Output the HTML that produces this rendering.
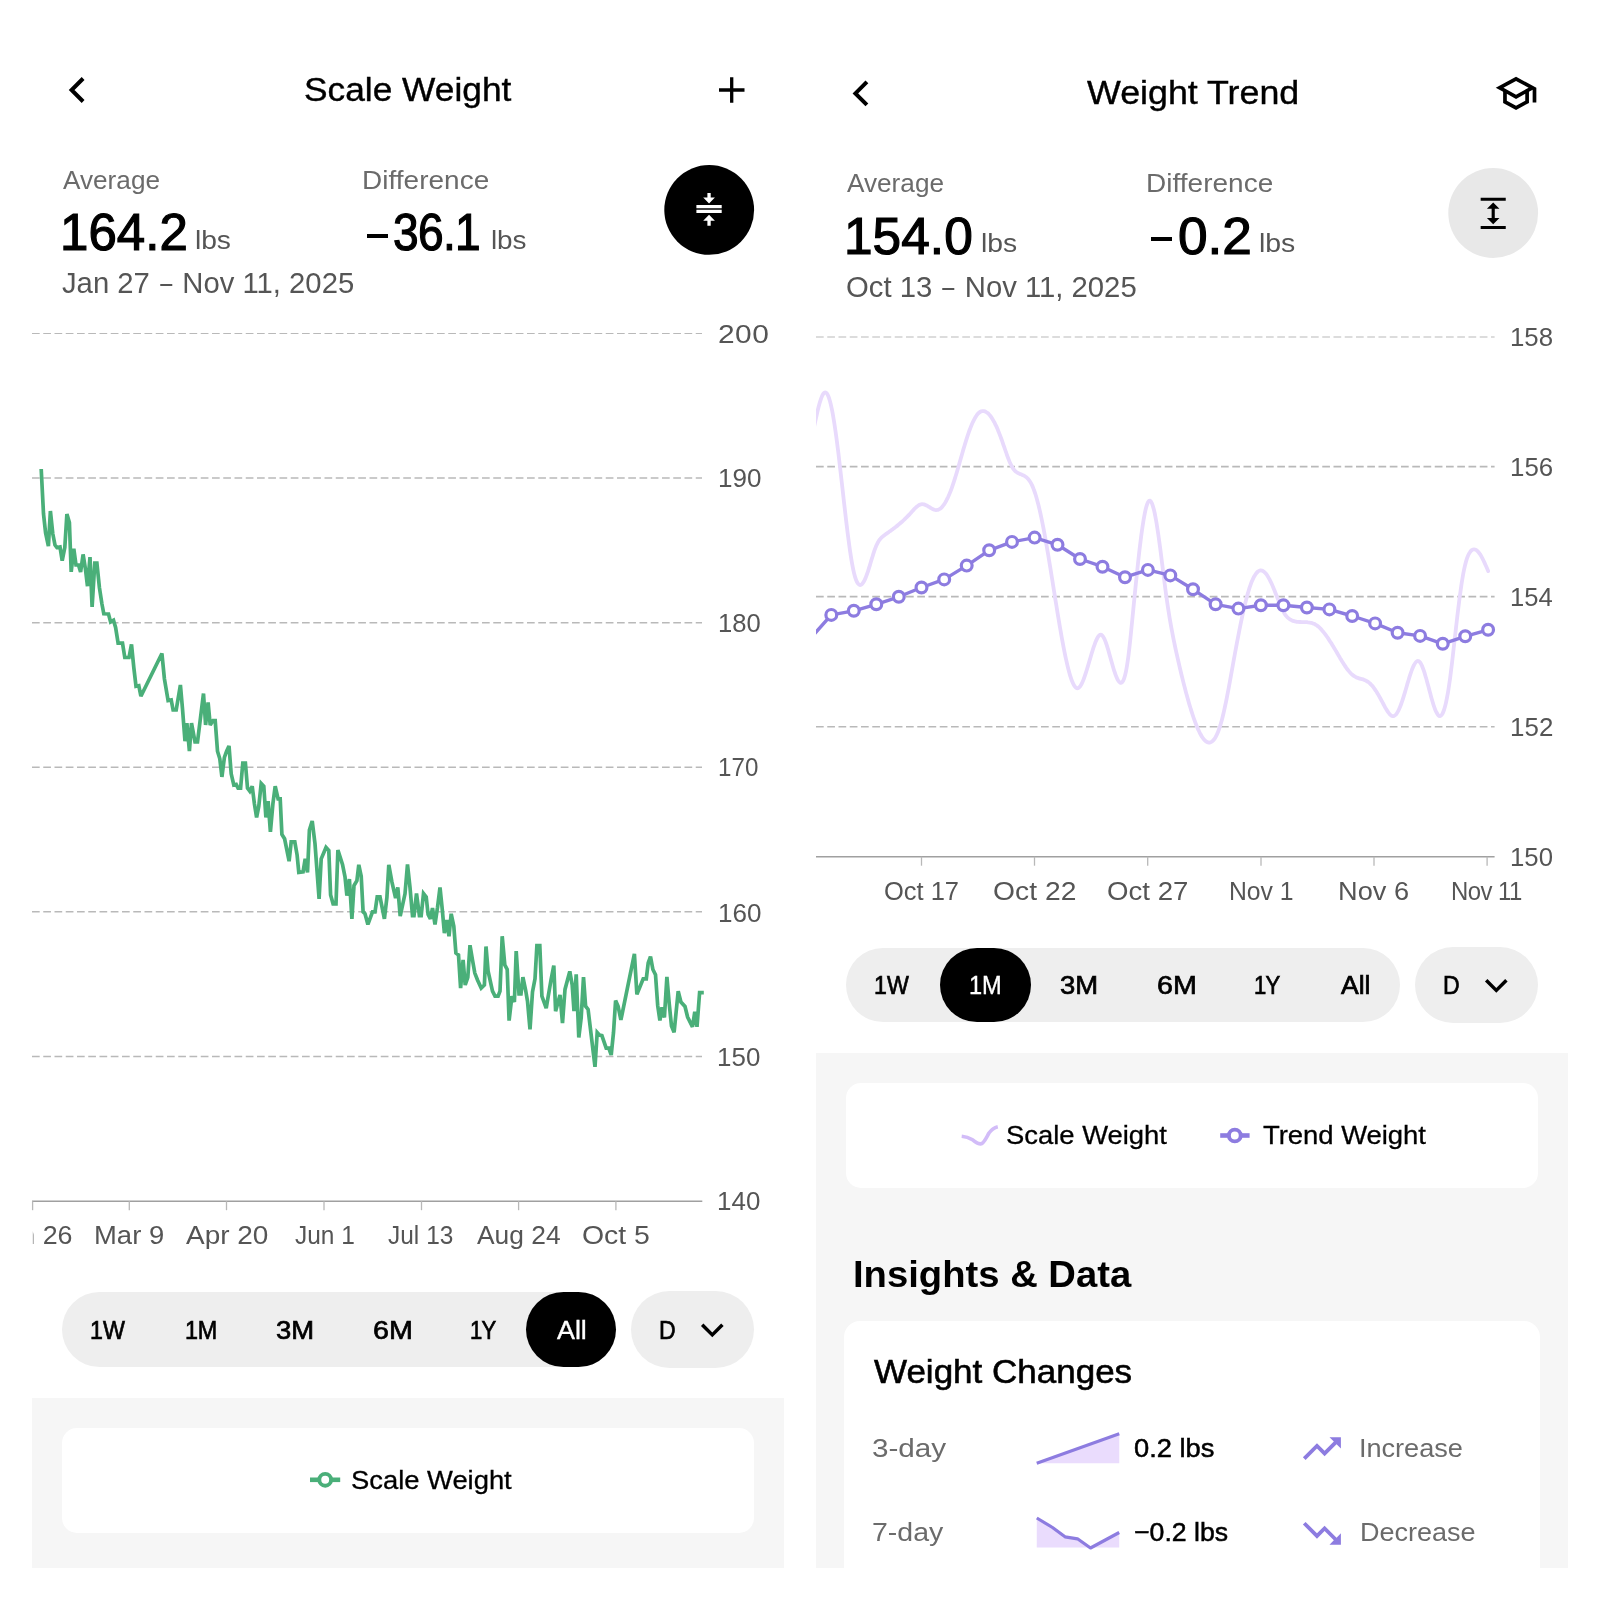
<!DOCTYPE html>
<html><head><meta charset="utf-8"><title>Weight</title>
<style>html,body{margin:0;padding:0;background:#fff}body{width:1600px;height:1600px;position:relative;overflow:hidden;font-family:'Liberation Sans',sans-serif}.t{position:absolute;white-space:pre;transform-origin:0 0;}.d{display:inline-block;transform:scaleX(.74)}.b{position:absolute}</style></head>
<body>
<div class="b" style="left:32px;top:1397.8px;width:752px;height:170.2px;background:#f6f6f6"></div>
<div class="b" style="left:816px;top:1053.3px;width:752px;height:514.7px;background:#f6f6f6"></div>
<div class="b" style="left:61.8px;top:1427.8px;width:692.3px;height:104.8px;background:#fff;border-radius:15px"></div>
<div class="b" style="left:845.8px;top:1083.3px;width:692.3px;height:104.8px;background:#fff;border-radius:15px"></div>
<div class="b" style="left:844px;top:1320.8px;width:696px;height:247.2px;background:#fff;border-radius:16px 16px 0 0"></div>
<div class="b" style="left:366.8px;top:233.7px;width:21.4px;height:3.9px;background:#000"></div>
<div class="b" style="left:1151px;top:237.1px;width:21.2px;height:3.9px;background:#000"></div>
<div class="b" style="left:62px;top:1292px;width:554px;height:74.8px;background:#eee;border-radius:38px"></div>
<div class="b" style="left:526px;top:1292.3px;width:89.8px;height:74.4px;background:#000;border-radius:38px"></div>
<div class="b" style="left:630.8px;top:1291px;width:123.2px;height:76.5px;background:#eee;border-radius:39px"></div>
<div class="b" style="left:846px;top:947.5px;width:554px;height:74.8px;background:#eee;border-radius:38px"></div>
<div class="b" style="left:940.2px;top:947.7px;width:90.6px;height:74.4px;background:#000;border-radius:38px"></div>
<div class="b" style="left:1414.8px;top:946.5px;width:123.2px;height:76.5px;background:#eee;border-radius:39px"></div>
<svg width="1600" height="1600" viewBox="0 0 1600 1600" style="position:absolute;left:0;top:0">
<line x1="32" y1="333.45" x2="702" y2="333.45" stroke="#b9b9b9" stroke-width="1.1" stroke-dasharray="7.7 3.55"/>
<line x1="32" y1="478" x2="702" y2="478" stroke="#b9b9b9" stroke-width="1.55" stroke-dasharray="7.7 3.55"/>
<line x1="32" y1="622.7" x2="702" y2="622.7" stroke="#b9b9b9" stroke-width="1.55" stroke-dasharray="7.7 3.55"/>
<line x1="32" y1="767.25" x2="702" y2="767.25" stroke="#b9b9b9" stroke-width="1.55" stroke-dasharray="7.7 3.55"/>
<line x1="32" y1="911.8" x2="702" y2="911.8" stroke="#b9b9b9" stroke-width="1.55" stroke-dasharray="7.7 3.55"/>
<line x1="32" y1="1056.5" x2="702" y2="1056.5" stroke="#b9b9b9" stroke-width="1.55" stroke-dasharray="7.7 3.55"/>
<line x1="32" y1="1201.2" x2="702.3" y2="1201.2" stroke="#a0a0a0" stroke-width="1.4"/>
<line x1="32.6" y1="1201.2" x2="32.6" y2="1210.2" stroke="#b8b8b8" stroke-width="1.3"/>
<line x1="129.3" y1="1201.2" x2="129.3" y2="1210.2" stroke="#b8b8b8" stroke-width="1.3"/>
<line x1="226.5" y1="1201.2" x2="226.5" y2="1210.2" stroke="#b8b8b8" stroke-width="1.3"/>
<line x1="324" y1="1201.2" x2="324" y2="1210.2" stroke="#b8b8b8" stroke-width="1.3"/>
<line x1="421.5" y1="1201.2" x2="421.5" y2="1210.2" stroke="#b8b8b8" stroke-width="1.3"/>
<line x1="518.6" y1="1201.2" x2="518.6" y2="1210.2" stroke="#b8b8b8" stroke-width="1.3"/>
<line x1="615.9" y1="1201.2" x2="615.9" y2="1210.2" stroke="#b8b8b8" stroke-width="1.3"/>
<polyline points="41.2,469.0 43.5,513.8 45.6,533.0 48.4,546.2 50.4,511.0 52.8,533.8 55.0,545.0 56.9,547.5 60.0,546.9 62.2,560.6 64.8,547.5 66.9,514.0 69.4,522.5 71.2,571.9 73.8,548.8 76.0,565.0 78.5,565.0 80.6,571.9 83.1,554.4 85.4,568.8 87.5,586.2 90.0,557.2 92.1,606.9 94.8,563.1 96.9,563.1 99.4,587.5 101.9,603.8 103.8,613.8 108.5,614.0 110.6,621.9 113.5,620.2 115.6,627.5 118.1,643.1 122.5,643.1 124.8,657.5 129.0,657.5 131.5,644.4 133.8,667.5 136.0,686.2 138.8,685.6 140.9,696.2 161.9,653.5 164.4,678.8 168.1,700.6 171.2,700.0 173.1,710.0 176.2,710.0 180.4,685.0 182.5,708.8 185.0,741.2 186.9,723.1 189.4,751.2 191.5,723.1 195.0,741.9 197.5,741.9 203.5,693.5 205.6,725.0 208.1,702.5 210.2,725.0 213.1,720.6 215.2,720.6 217.5,751.2 219.8,758.8 221.9,776.9 224.4,757.5 226.6,751.2 229.0,746.0 231.2,773.8 233.8,785.0 236.2,784.4 238.1,788.1 240.6,788.1 242.8,763.1 245.4,763.1 247.5,788.1 249.8,791.2 252.2,786.2 254.4,803.8 256.6,817.5 258.8,806.2 261.2,783.5 263.8,786.2 265.9,817.5 268.1,801.2 270.4,831.9 272.9,803.8 275.2,786.2 278.1,798.8 280.2,798.8 281.9,834.4 284.6,838.8 289.1,861.2 291.2,841.9 294.8,841.9 297.1,855.0 298.8,872.5 303.1,871.9 305.2,858.8 307.5,872.5 309.4,830.0 312.2,821.0 315.0,843.8 319.1,898.8 321.2,858.8 326.0,847.5 328.8,850.6 330.6,895.0 333.1,903.8 336.0,903.8 337.9,850.0 342.5,864.4 345.0,876.9 346.9,895.6 349.4,879.0 351.9,918.8 354.0,885.6 356.9,880.6 358.8,864.8 361.2,876.2 363.1,911.9 365.0,913.8 367.9,924.4 372.5,911.9 375.0,911.9 377.2,896.9 380.0,896.9 384.4,918.8 386.9,897.5 388.8,864.8 391.9,881.9 395.6,898.1 397.8,887.5 400.2,916.2 405.0,893.8 407.5,864.4 410.0,887.5 412.5,915.6 414.0,915.6 416.5,893.5 419.4,915.6 421.2,915.6 423.5,893.5 426.2,896.9 428.1,914.4 430.4,918.8 432.5,908.1 435.0,924.4 437.5,907.5 440.0,887.5 442.2,908.8 444.4,933.1 446.9,920.0 449.0,936.2 451.2,913.8 453.8,926.2 455.9,953.1 458.5,955.0 460.6,988.1 463.1,960.0 465.2,985.0 467.8,977.5 470.0,945.2 472.5,960.0 474.8,973.1 477.5,980.0 481.2,988.1 484.4,985.0 486.0,946.5 488.1,971.2 492.5,991.2 495.0,996.2 498.1,996.2 500.0,991.2 502.2,936.2 504.8,965.0 507.2,969.4 509.1,1020.6 511.9,996.2 514.4,1001.9 516.2,951.0 519.0,993.8 521.0,993.8 522.9,977.2 525.6,990.0 527.5,1001.2 530.0,1029.4 532.5,991.9 535.0,978.8 536.9,945.6 539.8,945.6 541.9,996.2 546.2,1008.1 551.0,980.0 553.8,965.6 555.6,1011.2 560.0,995.0 562.5,1023.1 565.0,989.4 567.5,980.0 569.8,971.4 572.2,985.0 574.0,1011.2 576.2,974.4 578.8,1037.5 581.2,1017.5 583.5,977.2 585.6,1006.2 588.1,1009.4 595.0,1066.9 597.2,1032.5 599.4,1035.0 601.9,1035.6 606.2,1048.1 608.8,1048.1 611.2,1055.0 613.5,1032.5 615.6,1000.6 618.1,1006.2 620.9,1020.0 634.4,953.8 636.9,994.4 643.2,978.8 646.3,978.8 648.2,963.0 650.5,956.7 652.9,969.5 655.5,974.7 657.7,1005.5 659.9,1020.5 662.0,1007.3 664.4,1017.5 666.9,976.9 669.2,1003.5 671.5,1026.0 674.1,1032.4 678.2,991.1 680.9,1002.0 685.0,1006.5 687.6,1017.0 692.5,1026.8 694.8,1011.8 697.0,1026.8 699.6,992.6 703.8,992.6" fill="none" stroke="#4aaf79" stroke-width="3.7" stroke-linejoin="miter" stroke-miterlimit="3" stroke-linecap="butt"/>
<line x1="816" y1="337" x2="1494.6" y2="337" stroke="#b9b9b9" stroke-width="1.1" stroke-dasharray="7.7 3.55"/>
<line x1="816" y1="466.6" x2="1494.6" y2="466.6" stroke="#b9b9b9" stroke-width="1.55" stroke-dasharray="7.7 3.55"/>
<line x1="816" y1="596.6" x2="1494.6" y2="596.6" stroke="#b9b9b9" stroke-width="1.55" stroke-dasharray="7.7 3.55"/>
<line x1="816" y1="726.7" x2="1494.6" y2="726.7" stroke="#b9b9b9" stroke-width="1.55" stroke-dasharray="7.7 3.55"/>
<line x1="816" y1="856.7" x2="1494.6" y2="856.7" stroke="#a0a0a0" stroke-width="1.4"/>
<line x1="921.5" y1="856.7" x2="921.5" y2="865.7" stroke="#b8b8b8" stroke-width="1.3"/>
<line x1="1034.5" y1="856.7" x2="1034.5" y2="865.7" stroke="#b8b8b8" stroke-width="1.3"/>
<line x1="1147.7" y1="856.7" x2="1147.7" y2="865.7" stroke="#b8b8b8" stroke-width="1.3"/>
<line x1="1261" y1="856.7" x2="1261" y2="865.7" stroke="#b8b8b8" stroke-width="1.3"/>
<line x1="1374" y1="856.7" x2="1374" y2="865.7" stroke="#b8b8b8" stroke-width="1.3"/>
<line x1="1487.1" y1="856.7" x2="1487.1" y2="865.7" stroke="#b8b8b8" stroke-width="1.3"/>
<clipPath id="rc"><rect x="816" y="300" width="700" height="560"/></clipPath>
<g clip-path="url(#rc)"><path d="M812.0 436.1C812.3 434.6 813.3 430.1 814.0 427.1C814.7 424.1 815.3 421.0 816.0 418.1C816.7 415.1 817.3 412.0 818.0 409.3C818.7 406.6 819.3 404.0 820.0 401.9C820.7 399.7 821.3 397.7 822.0 396.2C822.7 394.8 823.3 393.6 824.0 393.0C824.7 392.4 825.3 392.2 826.0 392.6C826.7 393.0 827.3 393.9 828.0 395.4C828.7 396.8 829.3 398.8 830.0 401.2C830.7 403.7 831.3 406.6 832.0 409.9C832.7 413.3 833.3 417.0 834.0 421.2C834.7 425.3 835.3 429.9 836.0 434.7C836.7 439.5 837.3 444.7 838.0 450.1C838.7 455.5 839.3 461.2 840.0 466.9C840.7 472.6 841.3 478.6 842.0 484.4C842.7 490.3 843.3 496.3 844.0 502.2C844.7 508.0 845.3 513.9 846.0 519.5C846.7 525.1 847.3 530.6 848.0 535.8C848.7 541.0 849.3 546.0 850.0 550.6C850.7 555.1 851.3 559.4 852.0 563.2C852.7 566.9 853.3 570.3 854.0 573.0C854.7 575.8 855.3 578.0 856.0 579.8C856.7 581.6 857.3 582.8 858.0 583.7C858.7 584.6 859.3 585.0 860.0 585.0C860.7 585.1 861.3 584.8 862.0 584.1C862.7 583.5 863.3 582.5 864.0 581.3C864.7 580.1 865.3 578.6 866.0 576.9C866.7 575.2 867.3 573.3 868.0 571.3C868.7 569.2 869.3 567.0 870.0 564.8C870.7 562.6 871.3 560.3 872.0 558.2C872.7 556.0 873.3 553.8 874.0 551.8C874.7 549.9 875.3 548.0 876.0 546.4C876.7 544.8 877.3 543.4 878.0 542.2C878.7 541.1 879.3 540.1 880.0 539.3C880.7 538.4 881.3 537.8 882.0 537.1C882.7 536.5 883.3 536.0 884.0 535.5C884.7 535.0 885.3 534.5 886.0 534.0C886.7 533.6 887.3 533.1 888.0 532.6C888.7 532.1 889.3 531.6 890.0 531.2C890.7 530.7 891.3 530.2 892.0 529.7C892.7 529.2 893.3 528.7 894.0 528.2C894.7 527.7 895.3 527.2 896.0 526.7C896.7 526.1 897.3 525.6 898.0 525.1C898.7 524.5 899.3 524.0 900.0 523.4C900.7 522.9 901.3 522.3 902.0 521.7C902.7 521.1 903.3 520.5 904.0 519.9C904.7 519.2 905.3 518.6 906.0 517.9C906.7 517.3 907.3 516.6 908.0 515.9C908.7 515.2 909.3 514.5 910.0 513.8C910.7 513.0 911.3 512.3 912.0 511.5C912.7 510.8 913.3 510.0 914.0 509.3C914.7 508.7 915.3 508.0 916.0 507.4C916.7 506.8 917.3 506.2 918.0 505.8C918.7 505.3 919.3 504.9 920.0 504.7C920.7 504.4 921.3 504.2 922.0 504.2C922.7 504.2 923.3 504.3 924.0 504.4C924.7 504.6 925.3 504.9 926.0 505.2C926.7 505.5 927.3 505.9 928.0 506.3C928.7 506.7 929.3 507.1 930.0 507.5C930.7 507.9 931.3 508.4 932.0 508.7C932.7 509.1 933.3 509.4 934.0 509.6C934.7 509.8 935.3 510.0 936.0 510.1C936.7 510.1 937.3 510.1 938.0 509.8C938.7 509.6 939.3 509.3 940.0 508.8C940.7 508.4 941.3 507.8 942.0 507.1C942.7 506.3 943.3 505.5 944.0 504.5C944.7 503.6 945.3 502.5 946.0 501.3C946.7 500.0 947.3 498.7 948.0 497.3C948.7 495.8 949.3 494.3 950.0 492.6C950.7 491.0 951.3 489.2 952.0 487.3C952.7 485.5 953.3 483.5 954.0 481.4C954.7 479.3 955.3 477.2 956.0 475.0C956.7 472.8 957.3 470.5 958.0 468.2C958.7 465.9 959.3 463.6 960.0 461.2C960.7 458.9 961.3 456.6 962.0 454.3C962.7 451.9 963.3 449.6 964.0 447.4C964.7 445.1 965.3 442.9 966.0 440.8C966.7 438.7 967.3 436.6 968.0 434.6C968.7 432.7 969.3 430.8 970.0 429.0C970.7 427.3 971.3 425.6 972.0 424.0C972.7 422.5 973.3 421.1 974.0 419.8C974.7 418.5 975.3 417.3 976.0 416.3C976.7 415.3 977.3 414.4 978.0 413.7C978.7 413.0 979.3 412.4 980.0 412.0C980.7 411.6 981.3 411.3 982.0 411.2C982.7 411.0 983.3 411.0 984.0 411.1C984.7 411.2 985.3 411.5 986.0 411.9C986.7 412.2 987.3 412.7 988.0 413.3C988.7 413.9 989.3 414.7 990.0 415.5C990.7 416.3 991.3 417.3 992.0 418.3C992.7 419.3 993.3 420.5 994.0 421.7C994.7 423.0 995.3 424.3 996.0 425.7C996.7 427.1 997.3 428.6 998.0 430.2C998.7 431.8 999.3 433.5 1000.0 435.2C1000.7 437.0 1001.3 438.8 1002.0 440.7C1002.7 442.6 1003.3 444.5 1004.0 446.4C1004.7 448.4 1005.3 450.3 1006.0 452.2C1006.7 454.1 1007.3 456.0 1008.0 457.7C1008.7 459.5 1009.3 461.2 1010.0 462.7C1010.7 464.2 1011.3 465.6 1012.0 466.7C1012.7 467.9 1013.3 468.9 1014.0 469.7C1014.7 470.5 1015.3 471.1 1016.0 471.7C1016.7 472.2 1017.3 472.6 1018.0 473.0C1018.7 473.3 1019.3 473.6 1020.0 473.9C1020.7 474.2 1021.3 474.5 1022.0 474.8C1022.7 475.0 1023.3 475.3 1024.0 475.7C1024.7 476.1 1025.3 476.5 1026.0 477.0C1026.7 477.5 1027.3 478.1 1028.0 478.8C1028.7 479.6 1029.3 480.4 1030.0 481.5C1030.7 482.5 1031.3 483.7 1032.0 485.1C1032.7 486.5 1033.3 488.2 1034.0 490.0C1034.7 491.8 1035.3 493.8 1036.0 496.0C1036.7 498.3 1037.3 500.7 1038.0 503.3C1038.7 505.8 1039.3 508.6 1040.0 511.5C1040.7 514.5 1041.3 517.6 1042.0 520.8C1042.7 524.1 1043.3 527.5 1044.0 531.1C1044.7 534.6 1045.3 538.3 1046.0 542.1C1046.7 545.9 1047.3 549.8 1048.0 553.7C1048.7 557.7 1049.3 561.8 1050.0 565.9C1050.7 570.0 1051.3 574.1 1052.0 578.3C1052.7 582.4 1053.3 586.6 1054.0 590.8C1054.7 595.0 1055.3 599.2 1056.0 603.3C1056.7 607.4 1057.3 611.6 1058.0 615.6C1058.7 619.6 1059.3 623.6 1060.0 627.5C1060.7 631.4 1061.3 635.2 1062.0 638.8C1062.7 642.5 1063.3 646.1 1064.0 649.4C1064.7 652.8 1065.3 656.1 1066.0 659.1C1066.7 662.2 1067.3 665.1 1068.0 667.8C1068.7 670.4 1069.3 672.9 1070.0 675.1C1070.7 677.3 1071.3 679.3 1072.0 681.0C1072.7 682.7 1073.3 684.1 1074.0 685.2C1074.7 686.4 1075.3 687.2 1076.0 687.7C1076.7 688.2 1077.3 688.4 1078.0 688.2C1078.7 688.0 1079.3 687.4 1080.0 686.6C1080.7 685.7 1081.3 684.5 1082.0 683.1C1082.7 681.8 1083.3 680.1 1084.0 678.3C1084.7 676.5 1085.3 674.5 1086.0 672.4C1086.7 670.3 1087.3 668.1 1088.0 665.9C1088.7 663.7 1089.3 661.3 1090.0 659.1C1090.7 656.8 1091.3 654.5 1092.0 652.4C1092.7 650.2 1093.3 648.1 1094.0 646.2C1094.7 644.3 1095.3 642.4 1096.0 640.9C1096.7 639.4 1097.3 637.9 1098.0 636.9C1098.7 635.9 1099.3 635.1 1100.0 634.8C1100.7 634.6 1101.3 634.6 1102.0 635.2C1102.7 635.7 1103.3 636.8 1104.0 638.1C1104.7 639.4 1105.3 641.1 1106.0 643.0C1106.7 644.8 1107.3 647.0 1108.0 649.2C1108.7 651.4 1109.3 653.8 1110.0 656.2C1110.7 658.5 1111.3 661.0 1112.0 663.3C1112.7 665.6 1113.3 668.0 1114.0 670.1C1114.7 672.2 1115.3 674.2 1116.0 675.9C1116.7 677.6 1117.3 679.1 1118.0 680.3C1118.7 681.4 1119.3 682.3 1120.0 682.6C1120.7 683.0 1121.3 683.0 1122.0 682.4C1122.7 681.7 1123.3 680.7 1124.0 678.8C1124.7 677.0 1125.3 674.6 1126.0 671.3C1126.7 668.0 1127.3 664.0 1128.0 659.1C1128.7 654.3 1129.3 648.4 1130.0 642.3C1130.7 636.2 1131.3 629.2 1132.0 622.6C1132.7 615.9 1133.3 608.9 1134.0 602.2C1134.7 595.4 1135.3 588.7 1136.0 582.2C1136.7 575.7 1137.3 569.3 1138.0 563.2C1138.7 557.1 1139.3 551.2 1140.0 545.7C1140.7 540.2 1141.3 535.0 1142.0 530.3C1142.7 525.6 1143.3 521.3 1144.0 517.6C1144.7 513.8 1145.3 510.5 1146.0 508.0C1146.7 505.4 1147.3 503.4 1148.0 502.1C1148.7 500.9 1149.3 500.4 1150.0 500.6C1150.7 500.8 1151.3 501.8 1152.0 503.4C1152.7 505.0 1153.3 507.4 1154.0 510.1C1154.7 512.9 1155.3 516.3 1156.0 520.0C1156.7 523.7 1157.3 528.0 1158.0 532.5C1158.7 536.9 1159.3 541.8 1160.0 546.8C1160.7 551.8 1161.3 557.1 1162.0 562.4C1162.7 567.7 1163.3 573.1 1164.0 578.4C1164.7 583.6 1165.3 588.8 1166.0 593.7C1166.7 598.6 1167.3 603.2 1168.0 607.6C1168.7 612.0 1169.3 616.1 1170.0 620.1C1170.7 624.0 1171.3 627.7 1172.0 631.2C1172.7 634.8 1173.3 638.1 1174.0 641.4C1174.7 644.7 1175.3 647.8 1176.0 650.9C1176.7 653.9 1177.3 656.9 1178.0 659.8C1178.7 662.8 1179.3 665.6 1180.0 668.5C1180.7 671.3 1181.3 674.1 1182.0 676.8C1182.7 679.5 1183.3 682.2 1184.0 684.8C1184.7 687.4 1185.3 689.9 1186.0 692.4C1186.7 694.9 1187.3 697.3 1188.0 699.6C1188.7 702.0 1189.3 704.3 1190.0 706.5C1190.7 708.7 1191.3 710.8 1192.0 712.9C1192.7 715.0 1193.3 717.0 1194.0 718.9C1194.7 720.8 1195.3 722.6 1196.0 724.3C1196.7 726.0 1197.3 727.6 1198.0 729.1C1198.7 730.6 1199.3 732.0 1200.0 733.3C1200.7 734.6 1201.3 735.8 1202.0 736.8C1202.7 737.8 1203.3 738.7 1204.0 739.5C1204.7 740.3 1205.3 740.9 1206.0 741.4C1206.7 741.9 1207.3 742.2 1208.0 742.4C1208.7 742.6 1209.3 742.6 1210.0 742.5C1210.7 742.3 1211.3 742.0 1212.0 741.5C1212.7 741.0 1213.3 740.4 1214.0 739.5C1214.7 738.6 1215.3 737.6 1216.0 736.3C1216.7 735.1 1217.3 733.7 1218.0 732.0C1218.7 730.3 1219.3 728.5 1220.0 726.4C1220.7 724.3 1221.3 721.9 1222.0 719.4C1222.7 716.9 1223.3 714.1 1224.0 711.1C1224.7 708.2 1225.3 705.0 1226.0 701.8C1226.7 698.5 1227.3 695.1 1228.0 691.6C1228.7 688.1 1229.3 684.5 1230.0 680.8C1230.7 677.2 1231.3 673.5 1232.0 669.8C1232.7 666.1 1233.3 662.4 1234.0 658.7C1234.7 655.1 1235.3 651.4 1236.0 647.8C1236.7 644.3 1237.3 640.7 1238.0 637.3C1238.7 633.8 1239.3 630.4 1240.0 627.1C1240.7 623.8 1241.3 620.6 1242.0 617.5C1242.7 614.4 1243.3 611.4 1244.0 608.5C1244.7 605.6 1245.3 602.9 1246.0 600.2C1246.7 597.6 1247.3 595.2 1248.0 592.9C1248.7 590.6 1249.3 588.4 1250.0 586.4C1250.7 584.5 1251.3 582.7 1252.0 581.1C1252.7 579.5 1253.3 578.0 1254.0 576.8C1254.7 575.6 1255.3 574.5 1256.0 573.6C1256.7 572.8 1257.3 572.1 1258.0 571.5C1258.7 571.0 1259.3 570.7 1260.0 570.5C1260.7 570.4 1261.3 570.4 1262.0 570.6C1262.7 570.8 1263.3 571.2 1264.0 571.7C1264.7 572.2 1265.3 573.0 1266.0 573.8C1266.7 574.6 1267.3 575.6 1268.0 576.7C1268.7 577.8 1269.3 579.0 1270.0 580.3C1270.7 581.6 1271.3 583.0 1272.0 584.5C1272.7 586.0 1273.3 587.6 1274.0 589.2C1274.7 590.9 1275.3 592.6 1276.0 594.3C1276.7 596.0 1277.3 597.7 1278.0 599.4C1278.7 601.1 1279.3 602.7 1280.0 604.3C1280.7 605.9 1281.3 607.5 1282.0 608.9C1282.7 610.3 1283.3 611.6 1284.0 612.7C1284.7 613.9 1285.3 614.9 1286.0 615.7C1286.7 616.6 1287.3 617.3 1288.0 617.9C1288.7 618.5 1289.3 619.0 1290.0 619.4C1290.7 619.8 1291.3 620.2 1292.0 620.5C1292.7 620.8 1293.3 621.0 1294.0 621.2C1294.7 621.4 1295.3 621.5 1296.0 621.6C1296.7 621.8 1297.3 621.8 1298.0 621.9C1298.7 622.0 1299.3 622.0 1300.0 622.0C1300.7 622.1 1301.3 622.1 1302.0 622.1C1302.7 622.1 1303.3 622.1 1304.0 622.1C1304.7 622.1 1305.3 622.1 1306.0 622.1C1306.7 622.2 1307.3 622.2 1308.0 622.3C1308.7 622.3 1309.3 622.4 1310.0 622.6C1310.7 622.7 1311.3 622.8 1312.0 623.0C1312.7 623.3 1313.3 623.5 1314.0 623.8C1314.7 624.1 1315.3 624.5 1316.0 624.9C1316.7 625.3 1317.3 625.8 1318.0 626.3C1318.7 626.9 1319.3 627.5 1320.0 628.1C1320.7 628.8 1321.3 629.5 1322.0 630.3C1322.7 631.0 1323.3 631.8 1324.0 632.7C1324.7 633.5 1325.3 634.4 1326.0 635.3C1326.7 636.3 1327.3 637.2 1328.0 638.2C1328.7 639.2 1329.3 640.2 1330.0 641.3C1330.7 642.3 1331.3 643.4 1332.0 644.4C1332.7 645.5 1333.3 646.6 1334.0 647.7C1334.7 648.8 1335.3 650.0 1336.0 651.1C1336.7 652.2 1337.3 653.3 1338.0 654.5C1338.7 655.6 1339.3 656.7 1340.0 657.9C1340.7 659.0 1341.3 660.1 1342.0 661.2C1342.7 662.3 1343.3 663.3 1344.0 664.4C1344.7 665.4 1345.3 666.4 1346.0 667.4C1346.7 668.3 1347.3 669.3 1348.0 670.1C1348.7 671.0 1349.3 671.8 1350.0 672.5C1350.7 673.2 1351.3 673.9 1352.0 674.5C1352.7 675.1 1353.3 675.6 1354.0 676.0C1354.7 676.5 1355.3 676.8 1356.0 677.2C1356.7 677.5 1357.3 677.7 1358.0 677.9C1358.7 678.2 1359.3 678.4 1360.0 678.6C1360.7 678.8 1361.3 678.9 1362.0 679.1C1362.7 679.3 1363.3 679.5 1364.0 679.8C1364.7 680.0 1365.3 680.3 1366.0 680.7C1366.7 681.0 1367.3 681.4 1368.0 681.9C1368.7 682.3 1369.3 682.9 1370.0 683.5C1370.7 684.1 1371.3 684.9 1372.0 685.6C1372.7 686.4 1373.3 687.2 1374.0 688.1C1374.7 689.0 1375.3 690.0 1376.0 691.0C1376.7 692.0 1377.3 693.1 1378.0 694.2C1378.7 695.3 1379.3 696.5 1380.0 697.7C1380.7 698.9 1381.3 700.2 1382.0 701.4C1382.7 702.7 1383.3 704.0 1384.0 705.2C1384.7 706.4 1385.3 707.7 1386.0 708.8C1386.7 709.9 1387.3 711.1 1388.0 712.0C1388.7 713.0 1389.3 713.9 1390.0 714.5C1390.7 715.2 1391.3 715.7 1392.0 716.0C1392.7 716.2 1393.3 716.3 1394.0 716.0C1394.7 715.8 1395.3 715.2 1396.0 714.5C1396.7 713.7 1397.3 712.6 1398.0 711.4C1398.7 710.2 1399.3 708.7 1400.0 707.1C1400.7 705.4 1401.3 703.6 1402.0 701.7C1402.7 699.7 1403.3 697.6 1404.0 695.4C1404.7 693.3 1405.3 691.0 1406.0 688.7C1406.7 686.4 1407.3 684.1 1408.0 681.9C1408.7 679.7 1409.3 677.4 1410.0 675.4C1410.7 673.3 1411.3 671.4 1412.0 669.6C1412.7 667.9 1413.3 666.3 1414.0 665.0C1414.7 663.8 1415.3 662.7 1416.0 662.0C1416.7 661.3 1417.3 660.9 1418.0 661.0C1418.7 661.0 1419.3 661.5 1420.0 662.3C1420.7 663.1 1421.3 664.4 1422.0 665.9C1422.7 667.4 1423.3 669.2 1424.0 671.2C1424.7 673.2 1425.3 675.5 1426.0 677.8C1426.7 680.1 1427.3 682.6 1428.0 685.0C1428.7 687.5 1429.3 690.1 1430.0 692.6C1430.7 695.0 1431.3 697.5 1432.0 699.8C1432.7 702.1 1433.3 704.4 1434.0 706.3C1434.7 708.2 1435.3 710.1 1436.0 711.5C1436.7 712.9 1437.3 714.2 1438.0 714.9C1438.7 715.7 1439.3 716.1 1440.0 716.1C1440.7 716.0 1441.3 715.5 1442.0 714.5C1442.7 713.5 1443.3 712.0 1444.0 710.0C1444.7 708.0 1445.3 705.6 1446.0 702.6C1446.7 699.6 1447.3 696.2 1448.0 692.3C1448.7 688.3 1449.3 683.8 1450.0 678.9C1450.7 674.0 1451.3 668.5 1452.0 662.9C1452.7 657.3 1453.3 651.3 1454.0 645.4C1454.7 639.6 1455.3 633.6 1456.0 627.8C1456.7 622.0 1457.3 616.2 1458.0 610.7C1458.7 605.3 1459.3 599.9 1460.0 595.0C1460.7 590.0 1461.3 585.3 1462.0 581.1C1462.7 577.0 1463.3 573.2 1464.0 569.9C1464.7 566.6 1465.3 563.9 1466.0 561.6C1466.7 559.2 1467.3 557.4 1468.0 555.8C1468.7 554.2 1469.3 553.0 1470.0 552.1C1470.7 551.1 1471.3 550.4 1472.0 550.0C1472.7 549.5 1473.3 549.3 1474.0 549.3C1474.7 549.3 1475.3 549.5 1476.0 549.9C1476.7 550.3 1477.3 550.9 1478.0 551.6C1478.7 552.3 1479.3 553.2 1480.0 554.2C1480.7 555.2 1481.3 556.4 1482.0 557.6C1482.7 558.9 1483.3 560.2 1484.0 561.6C1484.7 563.0 1485.3 564.5 1486.0 566.0C1486.7 567.5 1487.7 569.9 1488.0 570.7C1488.3 571.5 1488.1 570.9 1488.1 570.9" fill="none" stroke="#e8dafc" stroke-width="3.8" stroke-linecap="round" stroke-linejoin="round"/>
<polyline points="808.6,640.5 831.3,614.9 853.8,610.8 876.3,604.3 898.8,596.8 921.5,587.5 944.2,579.4 966.7,565.6 989.2,550.3 1012.0,541.9 1034.6,537.6 1057.5,544.8 1080.0,559.0 1102.5,566.7 1125.0,577.2 1147.9,569.9 1170.3,575.4 1193.0,589.3 1215.6,604.3 1238.4,608.6 1260.9,605.2 1283.4,605.2 1306.9,607.5 1329.4,609.4 1352.2,616.0 1375.1,623.4 1397.6,632.8 1420.1,635.9 1442.8,643.8 1465.2,636.3 1488.1,629.8" fill="none" stroke="#8d7ce0" stroke-width="3.4" stroke-linejoin="round"/></g>
<circle cx="831.3" cy="614.9" r="5.4" fill="#fff" stroke="#8d7ce0" stroke-width="3.2"/>
<circle cx="853.8" cy="610.8" r="5.4" fill="#fff" stroke="#8d7ce0" stroke-width="3.2"/>
<circle cx="876.3" cy="604.3" r="5.4" fill="#fff" stroke="#8d7ce0" stroke-width="3.2"/>
<circle cx="898.8" cy="596.8" r="5.4" fill="#fff" stroke="#8d7ce0" stroke-width="3.2"/>
<circle cx="921.5" cy="587.5" r="5.4" fill="#fff" stroke="#8d7ce0" stroke-width="3.2"/>
<circle cx="944.2" cy="579.4" r="5.4" fill="#fff" stroke="#8d7ce0" stroke-width="3.2"/>
<circle cx="966.7" cy="565.6" r="5.4" fill="#fff" stroke="#8d7ce0" stroke-width="3.2"/>
<circle cx="989.2" cy="550.3" r="5.4" fill="#fff" stroke="#8d7ce0" stroke-width="3.2"/>
<circle cx="1012" cy="541.9" r="5.4" fill="#fff" stroke="#8d7ce0" stroke-width="3.2"/>
<circle cx="1034.6" cy="537.6" r="5.4" fill="#fff" stroke="#8d7ce0" stroke-width="3.2"/>
<circle cx="1057.5" cy="544.8" r="5.4" fill="#fff" stroke="#8d7ce0" stroke-width="3.2"/>
<circle cx="1080" cy="559" r="5.4" fill="#fff" stroke="#8d7ce0" stroke-width="3.2"/>
<circle cx="1102.5" cy="566.7" r="5.4" fill="#fff" stroke="#8d7ce0" stroke-width="3.2"/>
<circle cx="1125" cy="577.2" r="5.4" fill="#fff" stroke="#8d7ce0" stroke-width="3.2"/>
<circle cx="1147.9" cy="569.9" r="5.4" fill="#fff" stroke="#8d7ce0" stroke-width="3.2"/>
<circle cx="1170.3" cy="575.4" r="5.4" fill="#fff" stroke="#8d7ce0" stroke-width="3.2"/>
<circle cx="1193" cy="589.3" r="5.4" fill="#fff" stroke="#8d7ce0" stroke-width="3.2"/>
<circle cx="1215.6" cy="604.3" r="5.4" fill="#fff" stroke="#8d7ce0" stroke-width="3.2"/>
<circle cx="1238.4" cy="608.6" r="5.4" fill="#fff" stroke="#8d7ce0" stroke-width="3.2"/>
<circle cx="1260.9" cy="605.25" r="5.4" fill="#fff" stroke="#8d7ce0" stroke-width="3.2"/>
<circle cx="1283.4" cy="605.25" r="5.4" fill="#fff" stroke="#8d7ce0" stroke-width="3.2"/>
<circle cx="1306.9" cy="607.5" r="5.4" fill="#fff" stroke="#8d7ce0" stroke-width="3.2"/>
<circle cx="1329.4" cy="609.4" r="5.4" fill="#fff" stroke="#8d7ce0" stroke-width="3.2"/>
<circle cx="1352.2" cy="616" r="5.4" fill="#fff" stroke="#8d7ce0" stroke-width="3.2"/>
<circle cx="1375.1" cy="623.4" r="5.4" fill="#fff" stroke="#8d7ce0" stroke-width="3.2"/>
<circle cx="1397.6" cy="632.75" r="5.4" fill="#fff" stroke="#8d7ce0" stroke-width="3.2"/>
<circle cx="1420.1" cy="635.9" r="5.4" fill="#fff" stroke="#8d7ce0" stroke-width="3.2"/>
<circle cx="1442.75" cy="643.8" r="5.4" fill="#fff" stroke="#8d7ce0" stroke-width="3.2"/>
<circle cx="1465.25" cy="636.3" r="5.4" fill="#fff" stroke="#8d7ce0" stroke-width="3.2"/>
<circle cx="1488.1" cy="629.75" r="5.4" fill="#fff" stroke="#8d7ce0" stroke-width="3.2"/>
<path d="M83.1 78.5L71.6 90L83.1 101.5" fill="none" stroke="#000" stroke-width="4"/>
<path d="M866.9 81.9L855.4 93.4L866.9 104.9" fill="none" stroke="#000" stroke-width="4"/>
<path d="M719 90H744.5M731.7 77.2V102.8" fill="none" stroke="#000" stroke-width="3.3"/>
<g transform="translate(1493.9,71.2) scale(1.845)"><path d="M12 3L1 9l4 2.18v6L12 21l7-3.82v-6l2-1.09V17h2V9L12 3zm6.82 6L12 12.72 5.18 9 12 5.28 18.82 9zM17 15.99l-5 2.73-5-2.73v-3.72L12 15l5-2.73v3.72z" fill="#000"/></g>
<circle cx="709.2" cy="209.9" r="44.9" fill="#000"/>
<path d="M696.4 205H721.7V208.3H696.4ZM696.4 209.8H721.7V213.1H696.4ZM707.4 193H710.7V197.6H714.9L709.05 203.6L703.2 197.6H707.4ZM707.4 225.8H710.7V220.7H714.9L709.05 214.7L703.2 220.7H707.4Z" fill="#fff"/>
<circle cx="1493.2" cy="213" r="44.9" fill="#e8e8e8"/>
<g transform="translate(1474.4,194.6) scale(1.567)"><path d="M4 20h16v2H4zM4 2h16v2H4zm9 7h3l-4-4-4 4h3v6H8l4 4 4-4h-3z" fill="#000"/></g>
<path d="M702.2 1324.8L712.3 1334.9L722.4 1324.8" fill="none" stroke="#000" stroke-width="3.5"/>
<path d="M1486.2 980.3L1496.3 990.4L1506.4 980.3" fill="none" stroke="#000" stroke-width="3.5"/>
<line x1="310" y1="1479.8" x2="340.2" y2="1479.8" stroke="#4aaf79" stroke-width="4.6"/><circle cx="325.2" cy="1479.8" r="5.9" fill="#fff" stroke="#4aaf79" stroke-width="3.9"/>
<line x1="1220.2" y1="1135.5" x2="1249.6" y2="1135.5" stroke="#8d7ce0" stroke-width="4.6"/><circle cx="1234.8" cy="1135.5" r="5.9" fill="#fff" stroke="#8d7ce0" stroke-width="3.9"/>
<path d="M961.7 1136.2C966 1136.6 969 1137.6 972 1139.6C976 1142.3 978 1144.2 980.6 1143.9C984 1143.5 986 1138 989 1133C992 1128.8 995 1127.4 997.8 1126.7" fill="none" stroke="#d2bcf8" stroke-width="3.6"/>
<path d="M1036.75 1463.25L1119.25 1433.75V1463.25Z" fill="#eadcfd"/><path d="M1036.75 1463.25L1119.25 1433.75" stroke="#8d7ce0" stroke-width="3.2" fill="none"/>
<path d="M1036.8,1518.0 L1052.5,1527.5 L1065.0,1536.8 L1077.5,1538.8 L1090.5,1548.0 L1119.2,1532.5 L1119.25 1547.5 L1036.75 1547.5Z" fill="#eadcfd"/><polyline points="1036.8,1518.0 1052.5,1527.5 1065.0,1536.8 1077.5,1538.8 1090.5,1548.0 1119.2,1532.5" stroke="#8d7ce0" stroke-width="3.2" fill="none" stroke-linejoin="round"/>
<g transform="translate(1299.1,1425.8) scale(1.9)"><path d="M16 6l2.29 2.29-4.88 4.88-4-4L2 16.59 3.41 18l6-6 4 4 6.3-6.29L22 12V6z" fill="#8d7ce0"/></g>
<g transform="translate(1299.1,1510.5) scale(1.9)"><path d="M16 18l2.29-2.29-4.88-4.88-4 4L2 7.41 3.41 6l6 6 4-4 6.3 6.29L22 12v6z" fill="#8d7ce0"/></g>
</svg>
<div id="tx" style="position:absolute;left:0;top:0;width:1600px;height:1600px;will-change:transform">
<div class="t" style="left:304.01px;top:73.01px;font-size:33px;line-height:33px;transform:scaleX(1.0697);color:#000000;-webkit-text-stroke:0.4px #000000;">Scale Weight</div>
<div class="t" style="left:62.85px;top:168.04px;font-size:25.7px;line-height:25.7px;transform:scaleX(1.0187);color:#6b6b6b;">Average</div>
<div class="t" style="left:59.96px;top:206.97px;font-size:51.2px;line-height:51.2px;transform:scaleX(0.9964);letter-spacing:0.036px;color:#000000;-webkit-text-stroke:1.2px #000000;">164.2</div>
<div class="t" style="left:194.96px;top:228.01px;font-size:25.5px;line-height:25.5px;transform:scaleX(1.1075);letter-spacing:-0.062px;color:#555555;">lbs</div>
<div class="t" style="left:62.20px;top:269.08px;font-size:29.2px;line-height:29.2px;transform:scaleX(1.0021);color:#555555;">Jan 27 <span class="d">–</span> Nov 11, 2025</div>
<div class="t" style="left:361.79px;top:168.24px;font-size:25.7px;line-height:25.7px;transform:scaleX(1.0882);letter-spacing:0.032px;color:#6b6b6b;">Difference</div>
<div class="t" style="left:393.41px;top:206.97px;font-size:51.2px;line-height:51.2px;transform:scaleX(0.9000);letter-spacing:-0.753px;color:#000000;-webkit-text-stroke:1.2px #000000;">36.1</div>
<div class="t" style="left:490.54px;top:228.01px;font-size:25.5px;line-height:25.5px;transform:scaleX(1.0935);letter-spacing:-0.116px;color:#555555;">lbs</div>
<div class="t" style="left:1086.57px;top:75.81px;font-size:33px;line-height:33px;transform:scaleX(1.0847);color:#000000;-webkit-text-stroke:0.4px #000000;">Weight Trend</div>
<div class="t" style="left:846.95px;top:170.84px;font-size:25.7px;line-height:25.7px;transform:scaleX(1.0187);color:#6b6b6b;">Average</div>
<div class="t" style="left:843.85px;top:210.97px;font-size:51.2px;line-height:51.2px;transform:scaleX(1.0041);letter-spacing:0.038px;color:#000000;-webkit-text-stroke:1.2px #000000;">154.0</div>
<div class="t" style="left:981.04px;top:230.81px;font-size:25.5px;line-height:25.5px;transform:scaleX(1.1091);color:#555555;">lbs</div>
<div class="t" style="left:845.53px;top:272.88px;font-size:29.2px;line-height:29.2px;transform:scaleX(1.0026);color:#555555;">Oct 13 <span class="d">–</span> Nov 11, 2025</div>
<div class="t" style="left:1145.79px;top:171.04px;font-size:25.7px;line-height:25.7px;transform:scaleX(1.0882);letter-spacing:0.032px;color:#6b6b6b;">Difference</div>
<div class="t" style="left:1177.62px;top:210.97px;font-size:51.2px;line-height:51.2px;transform:scaleX(1.0395);letter-spacing:-0.025px;color:#000000;-webkit-text-stroke:1.2px #000000;">0.2</div>
<div class="t" style="left:1258.89px;top:231.01px;font-size:25.5px;line-height:25.5px;transform:scaleX(1.1162);letter-spacing:-0.051px;color:#555555;">lbs</div>
<div class="t" style="left:718.00px;top:320.80px;font-size:26.7px;line-height:26.7px;transform:scaleX(1.1200);letter-spacing:0.419px;color:#555555;">200</div>
<div class="t" style="left:717.54px;top:464.90px;font-size:26.7px;line-height:26.7px;transform:scaleX(0.9756);color:#555555;">190</div>
<div class="t" style="left:717.57px;top:610.30px;font-size:26.7px;line-height:26.7px;transform:scaleX(0.9587);color:#555555;">180</div>
<div class="t" style="left:717.64px;top:754.40px;font-size:26.7px;line-height:26.7px;transform:scaleX(0.9056);color:#555555;">170</div>
<div class="t" style="left:717.54px;top:899.50px;font-size:26.7px;line-height:26.7px;transform:scaleX(0.9756);color:#555555;">160</div>
<div class="t" style="left:717.47px;top:1043.90px;font-size:26.7px;line-height:26.7px;transform:scaleX(0.9708);letter-spacing:0.068px;color:#555555;">150</div>
<div class="t" style="left:717.47px;top:1188.30px;font-size:26.7px;line-height:26.7px;transform:scaleX(0.9708);letter-spacing:0.068px;color:#555555;">140</div>
<div class="t" style="left:1510.05px;top:323.90px;font-size:26.7px;line-height:26.7px;transform:scaleX(0.9676);color:#555555;">158</div>
<div class="t" style="left:1510.07px;top:454.10px;font-size:26.7px;line-height:26.7px;transform:scaleX(0.9685);letter-spacing:0.034px;color:#555555;">156</div>
<div class="t" style="left:1510.05px;top:584.10px;font-size:26.7px;line-height:26.7px;transform:scaleX(0.9580);color:#555555;">154</div>
<div class="t" style="left:1509.96px;top:714.30px;font-size:26.7px;line-height:26.7px;transform:scaleX(0.9706);letter-spacing:0.071px;color:#555555;">152</div>
<div class="t" style="left:1510.02px;top:844.30px;font-size:26.7px;line-height:26.7px;transform:scaleX(0.9652);letter-spacing:0.035px;color:#555555;">150</div>
<div class="t" style="left:-7.90px;top:1221.68px;font-size:26.6px;line-height:26.6px;transform:scaleX(1.0079);color:#555555;clip-path:inset(-10px -10px -10px 40.58px);">Jan 26</div>
<div class="t" style="left:93.97px;top:1221.68px;font-size:26.6px;line-height:26.6px;transform:scaleX(1.0308);letter-spacing:0.032px;color:#555555;">Mar 9</div>
<div class="t" style="left:185.70px;top:1221.68px;font-size:26.6px;line-height:26.6px;transform:scaleX(1.0504);color:#555555;">Apr 20</div>
<div class="t" style="left:294.87px;top:1221.68px;font-size:26.6px;line-height:26.6px;transform:scaleX(0.9203);color:#555555;">Jun 1</div>
<div class="t" style="left:388.35px;top:1221.68px;font-size:26.6px;line-height:26.6px;transform:scaleX(0.9189);letter-spacing:0.032px;color:#555555;">Jul 13</div>
<div class="t" style="left:476.68px;top:1221.68px;font-size:26.6px;line-height:26.6px;transform:scaleX(0.9909);letter-spacing:0.028px;color:#555555;">Aug 24</div>
<div class="t" style="left:582.14px;top:1221.68px;font-size:26.6px;line-height:26.6px;transform:scaleX(1.0693);letter-spacing:-0.026px;color:#555555;">Oct 5</div>
<div class="t" style="left:884.39px;top:878.28px;font-size:26.6px;line-height:26.6px;transform:scaleX(0.9586);letter-spacing:-0.021px;color:#555555;">Oct 17</div>
<div class="t" style="left:992.73px;top:878.28px;font-size:26.6px;line-height:26.6px;transform:scaleX(1.0611);letter-spacing:0.040px;color:#555555;">Oct 22</div>
<div class="t" style="left:1106.98px;top:878.28px;font-size:26.6px;line-height:26.6px;transform:scaleX(1.0384);color:#555555;">Oct 27</div>
<div class="t" style="left:1228.73px;top:878.28px;font-size:26.6px;line-height:26.6px;transform:scaleX(0.9305);letter-spacing:-0.062px;color:#555555;">Nov 1</div>
<div class="t" style="left:1337.72px;top:878.28px;font-size:26.6px;line-height:26.6px;transform:scaleX(1.0214);letter-spacing:0.032px;color:#555555;">Nov 6</div>
<div class="t" style="left:1451.22px;top:878.28px;font-size:26.6px;line-height:26.6px;transform:scaleX(0.9000);letter-spacing:-0.632px;color:#555555;">Nov 11</div>
<div class="t" style="left:90.24px;top:1317.79px;font-size:25.7px;line-height:25.7px;transform:scaleX(0.9045);color:#000000;-webkit-text-stroke:0.7px #000000;">1W</div>
<div class="t" style="left:184.65px;top:1317.79px;font-size:25.7px;line-height:25.7px;transform:scaleX(0.9105);letter-spacing:-0.207px;color:#000000;-webkit-text-stroke:0.7px #000000;">1M</div>
<div class="t" style="left:276.27px;top:1317.79px;font-size:25.7px;line-height:25.7px;transform:scaleX(1.0678);letter-spacing:0.094px;color:#000000;-webkit-text-stroke:0.7px #000000;">3M</div>
<div class="t" style="left:372.87px;top:1317.79px;font-size:25.7px;line-height:25.7px;transform:scaleX(1.1134);color:#000000;-webkit-text-stroke:0.7px #000000;">6M</div>
<div class="t" style="left:470.24px;top:1317.79px;font-size:25.7px;line-height:25.7px;transform:scaleX(0.8600);letter-spacing:-1.000px;color:#000000;-webkit-text-stroke:0.7px #000000;">1Y</div>
<div class="t" style="left:556.73px;top:1317.79px;font-size:25.7px;line-height:25.7px;transform:scaleX(1.0466);letter-spacing:-0.037px;color:#ffffff;-webkit-text-stroke:0.35px #ffffff;">All</div>
<div class="t" style="left:658.64px;top:1317.79px;font-size:25.7px;line-height:25.7px;transform:scaleX(0.8978);color:#000000;-webkit-text-stroke:0.7px #000000;">D</div>
<div class="t" style="left:873.86px;top:972.79px;font-size:25.7px;line-height:25.7px;transform:scaleX(0.9009);letter-spacing:0.205px;color:#000000;-webkit-text-stroke:0.7px #000000;">1W</div>
<div class="t" style="left:968.51px;top:972.79px;font-size:25.7px;line-height:25.7px;transform:scaleX(0.9190);letter-spacing:-0.102px;color:#ffffff;-webkit-text-stroke:0.35px #ffffff;">1M</div>
<div class="t" style="left:1060.27px;top:972.79px;font-size:25.7px;line-height:25.7px;transform:scaleX(1.0678);letter-spacing:0.094px;color:#000000;-webkit-text-stroke:0.7px #000000;">3M</div>
<div class="t" style="left:1156.87px;top:972.79px;font-size:25.7px;line-height:25.7px;transform:scaleX(1.1134);color:#000000;-webkit-text-stroke:0.7px #000000;">6M</div>
<div class="t" style="left:1254.24px;top:972.79px;font-size:25.7px;line-height:25.7px;transform:scaleX(0.8600);letter-spacing:-1.000px;color:#000000;-webkit-text-stroke:0.7px #000000;">1Y</div>
<div class="t" style="left:1340.90px;top:972.79px;font-size:25.7px;line-height:25.7px;transform:scaleX(1.0331);color:#000000;-webkit-text-stroke:0.7px #000000;">All</div>
<div class="t" style="left:1442.64px;top:972.79px;font-size:25.7px;line-height:25.7px;transform:scaleX(0.8978);color:#000000;-webkit-text-stroke:0.7px #000000;">D</div>
<div class="t" style="left:350.68px;top:1467.56px;font-size:25.5px;line-height:25.5px;transform:scaleX(1.0731);color:#000000;-webkit-text-stroke:0.3px #000000;">Scale Weight</div>
<div class="t" style="left:1005.60px;top:1122.56px;font-size:25.5px;line-height:25.5px;transform:scaleX(1.0743);color:#000000;-webkit-text-stroke:0.3px #000000;">Scale Weight</div>
<div class="t" style="left:1263.46px;top:1122.56px;font-size:25.5px;line-height:25.5px;transform:scaleX(1.0769);letter-spacing:-0.030px;color:#000000;-webkit-text-stroke:0.3px #000000;">Trend Weight</div>
<div class="t" style="left:852.62px;top:1256.43px;font-size:37.3px;line-height:37.3px;transform:scaleX(1.0248);color:#000000;font-weight:700;">Insights &amp; Data</div>
<div class="t" style="left:873.77px;top:1356.44px;font-size:32.5px;line-height:32.5px;transform:scaleX(1.0768);color:#000000;-webkit-text-stroke:0.55px #000000;">Weight Changes</div>
<div class="t" style="left:871.62px;top:1435.28px;font-size:26.6px;line-height:26.6px;transform:scaleX(1.1159);letter-spacing:-0.027px;color:#6b6b6b;">3-day</div>
<div class="t" style="left:871.54px;top:1519.28px;font-size:26.6px;line-height:26.6px;transform:scaleX(1.0705);color:#6b6b6b;">7-day</div>
<div class="t" style="left:1134.07px;top:1435.82px;font-size:25.9px;line-height:25.9px;transform:scaleX(1.0544);color:#000000;-webkit-text-stroke:0.5px #000000;">0.2 lbs</div>
<div class="t" style="left:1134.39px;top:1520.02px;font-size:25.9px;line-height:25.9px;transform:scaleX(1.0292);color:#000000;-webkit-text-stroke:0.5px #000000;">−0.2 lbs</div>
<div class="t" style="left:1359.30px;top:1435.28px;font-size:26.6px;line-height:26.6px;transform:scaleX(1.0204);letter-spacing:-0.029px;color:#6b6b6b;">Increase</div>
<div class="t" style="left:1359.59px;top:1519.28px;font-size:26.6px;line-height:26.6px;transform:scaleX(1.0158);color:#6b6b6b;">Decrease</div>
</div>
</body></html>
